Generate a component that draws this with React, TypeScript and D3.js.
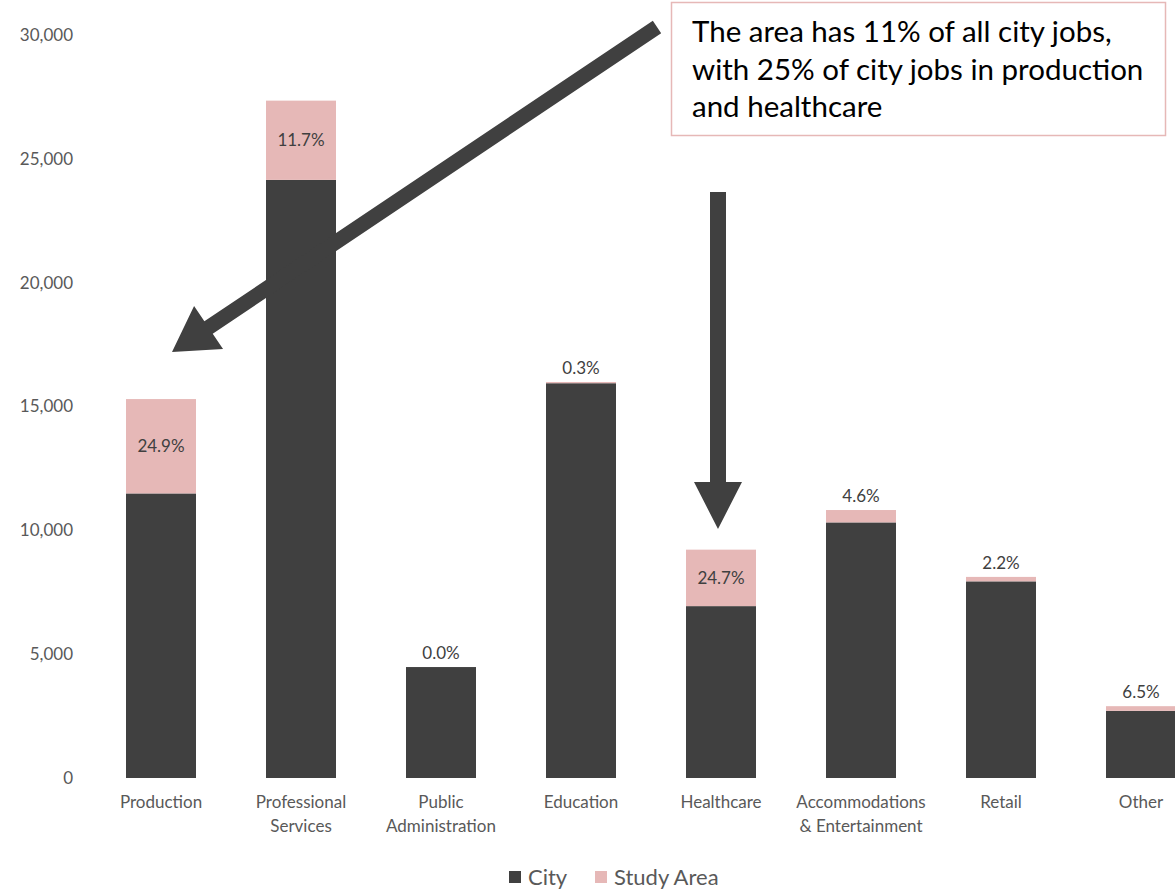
import React from "react";
import * as d3 from "d3";

const categories = [
  ["Production"],
  ["Professional", "Services"],
  ["Public", "Administration"],
  ["Education"],
  ["Healthcare"],
  ["Accommodations", "& Entertainment"],
  ["Retail"],
  ["Other"],
];
const cityJobs = [11490, 24150, 4480, 15940, 6940, 10320, 7940, 2710];
const studyAreaJobs = [3810, 3200, 0, 50, 2280, 500, 180, 190];
const shareLabels = ["24.9%", "11.7%", "0.0%", "0.3%", "24.7%", "4.6%", "2.2%", "6.5%"];
const labelInside = [true, true, false, false, true, false, false, false];
const yTicks = [0, 5000, 10000, 15000, 20000, 25000, 30000];
const seriesNames = ["City", "Study Area"];
const annotationLines = [
  "The area has 11% of all city jobs,",
  "with 25% of city jobs in production",
  "and healthcare",
];

const W = 1175;
const H = 892;
const DARK = "#404040";
const PINK = "#e6b8b7";
const GRAY = "#595959";
const FONT = "Lato, 'Noto Sans', sans-serif";

export default function App() {
  const keys = categories.map((c) => c.join(" "));
  const x = d3
    .scaleBand<string>()
    .domain(keys)
    .range([91, 1211])
    .paddingInner(0.5)
    .paddingOuter(0.25);
  const y = d3.scaleLinear().domain([0, 30000]).range([778, 35]);
  const bw = x.bandwidth();

  const tick = d3.format(",");

  const arrow1Start: [number, number] = [657, 27];
  const arrow1Tip: [number, number] = [172, 352];
  const a1 = (() => {
    const [x0, y0] = arrow1Start;
    const [x1, y1] = arrow1Tip;
    const dx = x1 - x0, dy = y1 - y0;
    const L = Math.hypot(dx, dy);
    const ux = dx / L, uy = dy / L;
    const nx = -uy, ny = ux;
    const headLen = 44, headHalf = 26, shaftHalf = 7.5;
    const bx = x1 - ux * headLen, by = y1 - uy * headLen;
    const pts = [
      [x0 + nx * shaftHalf, y0 + ny * shaftHalf],
      [bx + nx * shaftHalf, by + ny * shaftHalf],
      [bx + nx * headHalf, by + ny * headHalf],
      [x1, y1],
      [bx - nx * headHalf, by - ny * headHalf],
      [bx - nx * shaftHalf, by - ny * shaftHalf],
      [x0 - nx * shaftHalf, y0 - ny * shaftHalf],
    ];
    return "M" + pts.map((p) => p.join(",")).join("L") + "Z";
  })();
  const a2 = (() => {
    const cx = 718, top = 192, base = 482, tip = 529, sh = 8, hh = 24;
    return `M${cx - sh},${top}L${cx + sh},${top}L${cx + sh},${base}L${cx + hh},${base}L${cx},${tip}L${cx - hh},${base}L${cx - sh},${base}Z`;
  })();

  const legendX = [509, 595];
  const legendColors = [DARK, PINK];

  return (
    <svg
      width={W}
      height={H}
      style={{ position: "absolute", left: 0, top: 0, background: "#fff" }}
      fontFamily={FONT}
    >
      {yTicks.map((t) => (
        <text
          key={t}
          x={73}
          y={y(t)}
          dy="0.35em"
          textAnchor="end"
          fontSize={17}
          fill={GRAY}
        >
          {tick(t)}
        </text>
      ))}

      {keys.map((k, i) => {
        const x0 = x(k)!;
        const c = cityJobs[i];
        const s = studyAreaJobs[i];
        return (
          <g key={k}>
            <rect x={x0} y={y(c)} width={bw} height={y(0) - y(c)} fill={DARK} />
            {s > 0 && (
              <rect x={x0} y={y(c + s)} width={bw} height={y(c) - y(c + s)} fill={PINK} />
            )}
          </g>
        );
      })}

      <path d={a1} fill={DARK} />
      <path d={a2} fill={DARK} />

      {keys.map((k, i) => {
        const cx = x(k)! + bw / 2;
        const c = cityJobs[i];
        const s = studyAreaJobs[i];
        const ly = labelInside[i] ? (y(c) + y(c + s)) / 2 : y(c + s) - 14;
        return (
          <text
            key={k}
            x={cx}
            y={ly}
            dy="0.35em"
            textAnchor="middle"
            fontSize={17}
            fill={DARK}
          >
            {shareLabels[i]}
          </text>
        );
      })}

      {categories.map((lines, i) => (
        <text
          key={keys[i]}
          x={x(keys[i])! + bw / 2}
          y={802}
          textAnchor="middle"
          fontSize={17}
          fill={GRAY}
        >
          {lines.map((l, j) => (
            <tspan key={j} x={x(keys[i])! + bw / 2} y={802 + j * 24} dy="0.35em">
              {l}
            </tspan>
          ))}
        </text>
      ))}

      {seriesNames.map((n, i) => (
        <g key={n}>
          <rect x={legendX[i]} y={871} width={12} height={12} fill={legendColors[i]} />
          <text x={legendX[i] + 19} y={877} dy="0.35em" fontSize={22} fill={GRAY}>
            {n}
          </text>
        </g>
      ))}

      <rect x={671.5} y={2.5} width={494} height={133} fill="#fff" stroke={PINK} strokeWidth={1.5} />
      {annotationLines.map((l, j) => (
        <text key={j} x={692} y={32 + j * 37.5} dy="0.35em" fontSize={29.5} fill="#000">
          {l}
        </text>
      ))}
    </svg>
  );
}
